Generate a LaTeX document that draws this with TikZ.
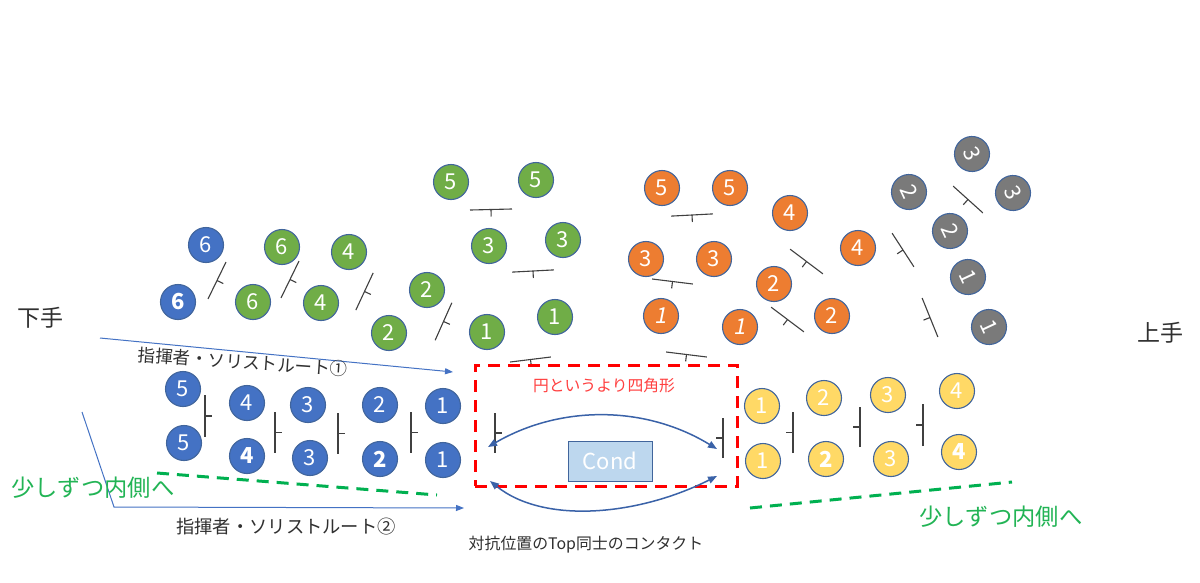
\documentclass[tikz,border=0pt]{standalone}
\usepackage{fontspec}
\setmainfont{Noto Sans CJK JP}
\newfontfamily\slantfont[FakeSlant=0.2]{Noto Sans CJK JP}
\usetikzlibrary{arrows.meta}
\definecolor{cblue}{HTML}{4472C4}
\definecolor{cgreen}{HTML}{70AD47}
\definecolor{corange}{HTML}{ED7D31}
\definecolor{cgray}{HTML}{7A7A7A}
\definecolor{cyellow}{HTML}{FFD966}
\definecolor{cborder}{HTML}{41659C}
\definecolor{ccond}{HTML}{BDD7EE}
\definecolor{carc}{HTML}{3A62A8}
\definecolor{cred}{HTML}{FF0000}
\definecolor{credtext}{HTML}{FF4040}
\definecolor{cgreenline}{HTML}{00B050}
\definecolor{cgreentext}{HTML}{22B455}
\definecolor{cstand}{HTML}{404040}
\definecolor{ctext}{HTML}{303030}
\newcommand{\numsize}{\fontsize{22}{22}\selectfont}
\begin{document}
\begin{tikzpicture}[x=1pt,y=-1pt,
  pl/.style={circle, minimum size=35pt, inner sep=0pt, draw=cborder, line width=1.1pt, text=white, font=\numsize},
  bl/.style={pl, fill=cblue},
  gr/.style={pl, fill=cgreen},
  org/.style={pl, fill=corange},
  gy/.style={pl, fill=cgray, rotate=-65},
  yl/.style={pl, fill=cyellow},
  bd/.style={font=\numsize\bfseries},
  it/.style={font=\numsize\slantfont},
  standline/.style={draw=cstand, line width=1.1pt},
  pics/stand/.style={code={\draw[standline] (0,-#1/2) -- (0,#1/2) (0,0) -- (7,0);}},
  route/.style={draw=cblue, line width=1pt, -{Triangle[length=8pt,width=6pt]}},
  arc/.style={draw=carc, line width=1.5pt, {Triangle[length=9pt,width=7pt]}-{Triangle[length=9pt,width=7pt]}},
  lbl/.style={text=ctext, inner sep=0pt},
  gdash/.style={draw=cgreenline, line width=3pt, dash pattern=on 12pt off 8pt}
]
\useasboundingbox (0,0) rectangle (1200,582);
\fill[white] (0,0) rectangle (1200,582);

% ---- left blue 6s and green clusters ----
\node[bl] (b6t) at (206,245) {6};
\node[bl,bd] (b6b) at (178,302) {6};
\node[gr] (g6t) at (282,247) {6};
\node[gr] (g6b) at (253,302) {6};
\node[gr] (g4t) at (349,252) {4};
\node[gr] (g4b) at (321,303) {4};
\node[gr] (g2t) at (427,290) {2};
\node[gr] (g2b) at (389,333) {2};
\node[gr] (g5l) at (451,182) {5};
\node[gr] (g5r) at (536,180) {5};
\node[gr] (g3l) at (489,246) {3};
\node[gr] (g3r) at (563,240) {3};
\node[gr] (g1l) at (487,332) {1};
\node[gr] (g1r) at (555,317) {1};

% ---- orange ----
\node[org] (o5l) at (662,188) {5};
\node[org] (o5r) at (730,188) {5};
\node[org] (o4t) at (790,213) {4};
\node[org] (o4r) at (858,248) {4};
\node[org] (o3l) at (646,259) {3};
\node[org] (o3r) at (714,259) {3};
\node[org] (o2c) at (774,284) {2};
\node[org] (o2r) at (832,316) {2};
\node[org,it] (o1l) at (661,316) {1};
\node[org,it] (o1r) at (740,327) {1};

% ---- gray ----
\node[gy] (y3t) at (972,154) {3};
\node[gy] (y3r) at (1013,193) {3};
\node[gy] (y2l) at (909,192) {2};
\node[gy] (y2c) at (950,231) {2};
\node[gy] (y1u) at (968,277) {1};
\node[gy] (y1l) at (989,327) {1};

% ---- blue bottom ----
\node[bl] (B5t) at (183,389) {5};
\node[bl] (B5b) at (184,443) {5};
\node[bl] (B4t) at (247,403) {4};
\node[bl,bd] (B4b) at (247,456) {4};
\node[bl] (B3t) at (308,405) {3};
\node[bl] (B3b) at (310,458) {3};
\node[bl] (B2t) at (380,405) {2};
\node[bl,bd] (B2b) at (380,459) {2};
\node[bl] (B1t) at (443,406) {1};
\node[bl] (B1b) at (443,460) {1};

% ---- yellow ----
\node[yl] (Y1t) at (762,406) {1};
\node[yl] (Y1b) at (763,461) {1};
\node[yl] (Y2t) at (824,398) {2};
\node[yl,bd] (Y2b) at (826,459) {2};
\node[yl] (Y3t) at (888,395) {3};
\node[yl] (Y3b) at (891,459) {3};
\node[yl] (Y4t) at (957,391) {4};
\node[yl,bd] (Y4b) at (959,452) {4};

% ---- music stands ----
\pic[rotate=-26] at (217,280.5) {stand=41};
\pic[rotate=-26] at (290,279.5) {stand=41};
\pic[rotate=-25] at (364.5,291.5) {stand=41};
\pic[rotate=-24] at (443.5,321.5) {stand=41};
\pic[rotate=-88.6] at (491,209.5) {stand=42};
\pic[rotate=-87] at (533,271) {stand=42};
\pic[rotate=-83] at (530.5,359.5) {stand=41};
\pic[rotate=-87] at (692,215) {stand=42};
\pic[rotate=-97] at (672.5,281.5) {stand=41};
\pic[rotate=-127] at (806.5,261.5) {stand=41};
\pic[rotate=-127] at (787.5,319.5) {stand=41};
\pic[rotate=-97] at (686.5,354.5) {stand=41};
\pic[rotate=-132] at (968,199.5) {stand=40};
\pic[rotate=-147] at (903,250) {stand=40};
\pic[rotate=-158] at (930,317.5) {stand=42};
\pic at (205,416) {stand=42};
\pic at (275,432.5) {stand=41};
\pic at (338,433.5) {stand=41};
\pic at (411,432.5) {stand=41};
\pic at (495,433) {stand=40};
\pic[rotate=180] at (723,438) {stand=40};
\pic[rotate=180] at (793,432.5) {stand=41};
\pic[rotate=180] at (860,427) {stand=40};
\pic[rotate=180] at (923,425) {stand=42};

% ---- red dashed box ----
\node[draw=cred, line width=3pt, dash pattern=on 12pt off 8pt, minimum width=262pt, minimum height=121pt, inner sep=0pt] (redbox) at (606,425.5) {};
\node[text=credtext, font=\fontsize{15.8}{15.8}\selectfont, inner sep=0pt] (redtxt) at (604,386) {円というより四角形};

% ---- Cond ----
\node[draw=cborder, line width=1pt, fill=ccond, minimum width=84pt, minimum height=40pt, inner sep=0pt, text=white, font=\fontsize{22}{22}\selectfont] (cond) at (610,461) {Cond};

% ---- arcs ----
\coordinate (ua) at (488,447);
\coordinate (ub) at (717,449);
\coordinate (la) at (490,481);
\coordinate (lb) at (717,476);
\draw[arc] (ua) .. controls (560,405) and (645,405) .. (ub);
\draw[arc] (la) .. controls (545,525) and (640,515) .. (lb);

% ---- route arrows ----
\coordinate (r1s) at (100,338);
\coordinate (r1e) at (453,372);
\draw[route] (r1s) -- (r1e);
\coordinate (r2s) at (82,412);
\coordinate (r2m) at (114,507);
\coordinate (r2e) at (464,508);
\draw[route] (r2s) -- (r2m) -- (r2e);

% ---- green dashed ----
\coordinate (gl1) at (157,473);
\coordinate (gl2) at (437,495);
\coordinate (gr1) at (750,508);
\coordinate (gr2) at (1012,482);
\draw[gdash] (gl1) -- (gl2);
\draw[gdash] (gr1) -- (gr2);

% ---- labels ----
\node[lbl, font=\fontsize{23}{23}\selectfont] (shimote) at (40,318) {下手};
\node[lbl, font=\fontsize{23}{23}\selectfont] (kamite) at (1160,333) {上手};
\node[lbl, font=\fontsize{17.5}{17.5}\selectfont, rotate=-4] (route1) at (243,362) {指揮者・ソリストルート①};
\node[lbl, font=\fontsize{18.3}{18.3}\selectfont] (route2) at (286,527) {指揮者・ソリストルート②};
\node[lbl, text=cgreentext, font=\fontsize{23.3}{23.3}\selectfont] (inl) at (93,488) {少しずつ内側へ};
\node[lbl, text=cgreentext, font=\fontsize{23.3}{23.3}\selectfont] (inr) at (1001,517) {少しずつ内側へ};
\node[lbl, font=\fontsize{15.9}{15.9}\selectfont] (contact) at (586,545) {対抗位置のTop同士のコンタクト};
\end{tikzpicture}
\end{document}
